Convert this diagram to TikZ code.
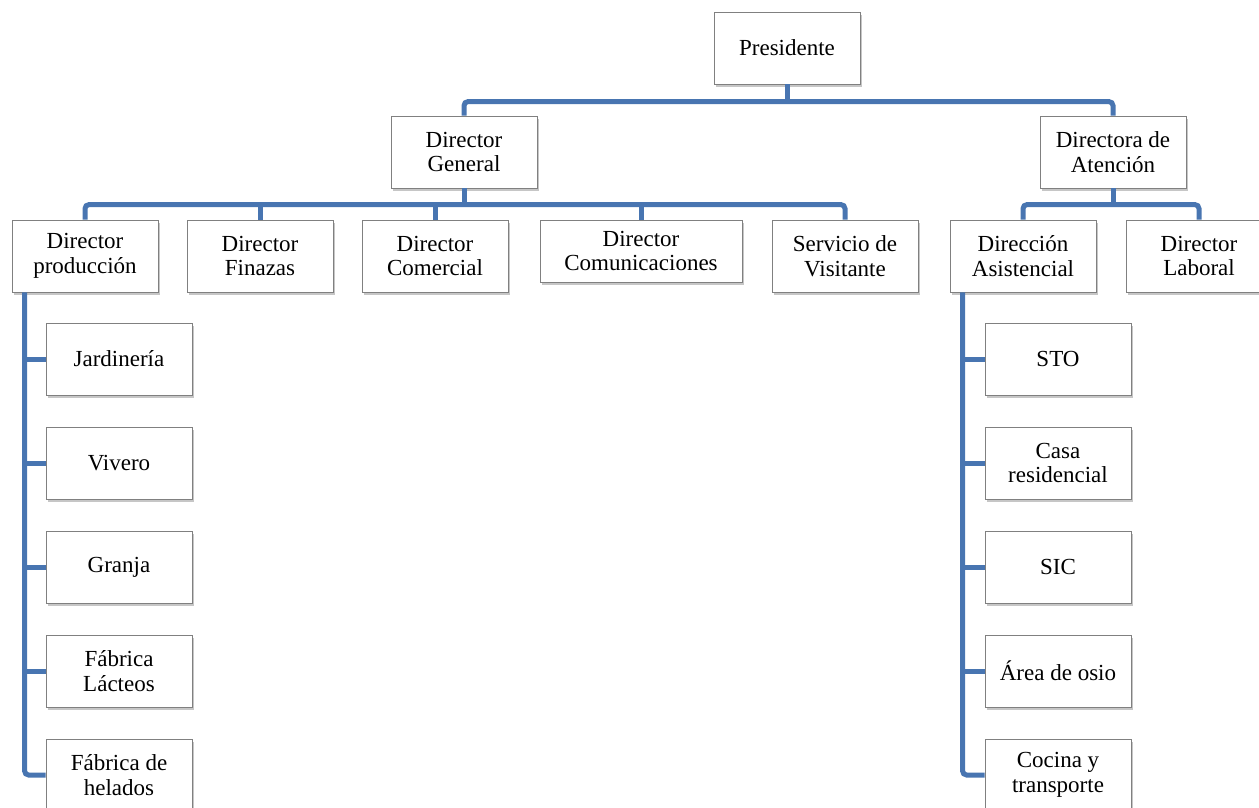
\documentclass[tikz,border=0pt]{standalone}
\usepackage{fontspec}
\setmainfont{Liberation Serif}
\usetikzlibrary{shadows}
\definecolor{azul}{RGB}{72,117,177}

\begin{document}
\begin{tikzpicture}[x=1pt, y=-1pt,
  caja/.style={draw=black!50, line width=0.8pt, fill=white, minimum width=146pt,
    minimum height=72pt, inner sep=0pt, align=center,
    font=\fontsize{23}{24.5}\selectfont,
    drop shadow={shadow xshift=2pt, shadow yshift=-3pt, opacity=0.45}},
  linea/.style={draw=azul, line width=5pt, rounded corners=4pt}]

  \useasboundingbox (0,0) rectangle (1259,808);

  %% niveles superiores
  \node[caja] (pres) at (787,48) {Presidente};
  \node[caja] (dg) at (464,152) {Director\\General};
  \node[caja] (da) at (1113,152) {Directora de\\Atención};

  \node[caja] (prod) at (85,256) {Director\\producción};
  \node[caja] (fin) at (260,256) {Director\\Finazas};
  \node[caja] (com) at (435,256) {Director\\Comercial};
  \node[caja, minimum width=202pt, minimum height=62pt] (comu) at (641,251) {Director\\Comunicaciones};
  \node[caja] (serv) at (845,256) {Servicio de\\Visitante};
  \node[caja] (asis) at (1023,256) {Dirección\\Asistencial};
  \node[caja] (lab) at (1199,256) {Director\\Laboral};

  %% producción
  \node[caja] (jard) at (119,359) {Jardinería};
  \node[caja] (viv) at (119,463) {Vivero};
  \node[caja] (gran) at (119,567) {Granja};
  \node[caja] (lact) at (119,671) {Fábrica\\Lácteos};
  \node[caja] (hel) at (119,775) {Fábrica de\\helados};

  %% asistencial
  \node[caja] (sto) at (1058,359) {STO};
  \node[caja] (casa) at (1058,463) {Casa\\residencial};
  \node[caja] (sic) at (1058,567) {SIC};
  \node[caja] (osio) at (1058,671) {Área de osio};
  \node[caja] (coc) at (1058,775) {Cocina y\\transporte};

  %% conectores
  \draw[linea] (dg.north) -- ++(0,-14) -| (da.north);
  \draw[linea] (pres.south) -- ++(0,18);

  \draw[linea] (prod.north) -- ++(0,-15) -| (serv.north);
  \draw[linea] (dg.south) -- ++(0,16);
  \draw[linea] (fin.north) -- ++(0,-15);
  \draw[linea] (com.north) -- ++(0,-15);
  \draw[linea] (comu.north) -- ++(0,-15);

  \draw[linea] (asis.north) -- ++(0,-15) -| (lab.north);
  \draw[linea] (da.south) -- ++(0,16);

  \draw[linea] ([xshift=13pt]prod.south west) |- (hel.west);
  \foreach \n in {jard,viv,gran,lact}
    \draw[linea] (\n.west) -- ++(-21,0);

  \draw[linea] ([xshift=13pt]asis.south west) |- (coc.west);
  \foreach \n in {sto,casa,sic,osio}
    \draw[linea] (\n.west) -- ++(-22,0);
\end{tikzpicture}
\end{document}
